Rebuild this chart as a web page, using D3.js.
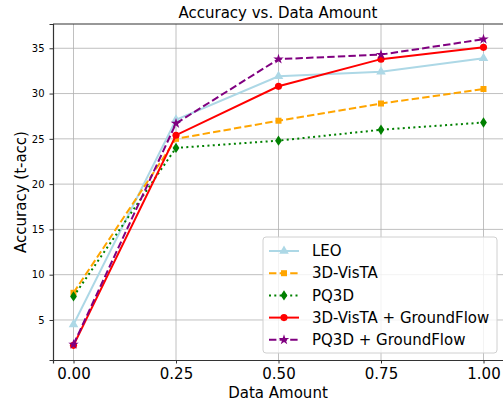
<!DOCTYPE html>
<html>
<head>
<meta charset="utf-8">
<script src="https://cdn.jsdelivr.net/npm/d3@7"></script>
<style>
  body { margin: 0; background: #fff; }
  text { font-family: "DejaVu Sans", sans-serif; fill: #000; }
</style>
</head>
<body>
<svg id="chart" width="503" height="404"></svg>
<script>
// data amount fractions on the x axis
const amounts = [0, 0.25, 0.5, 0.75, 1.0];
const xTicks = [0, 0.25, 0.5, 0.75, 1.0];
const yTicks = [5, 10, 15, 20, 25, 30, 35];

const leo = [4.5, 27.1, 31.9, 32.4, 33.9];
const vista = [8.0, 25.0, 27.0, 28.9, 30.5];
const pq3d = [7.6, 24.0, 24.8, 26.0, 26.8];
const vistaGF = [2.2, 25.4, 30.8, 33.8, 35.1];
const pq3dGF = [2.3, 26.7, 33.8, 34.3, 36.0];

const series = [
    { name: 'LEO', values: leo, color: '#add8e6', dash: null, marker: d3.symbolTriangle, size: 40 },
    { name: '3D-VisTA', values: vista, color: '#ffa500', dash: '7.4,3.2', marker: d3.symbolSquare, size: 36 },
    { name: 'PQ3D', values: pq3d, color: '#008000', dash: '2,3.3', marker: 'thinDiamond', size: 36 },
    { name: '3D-VisTA + GroundFlow', values: vistaGF, color: '#ff0000', dash: null, marker: d3.symbolCircle, size: 40 },
    { name: 'PQ3D + GroundFlow', values: pq3dGF, color: '#800080', dash: '7.4,3.2', marker: d3.symbolStar, size: 34 },
];

const margin = { top: 24, left: 53, right: -1, bottom: 44 };
const width = 503, height = 404;

const svg = d3.select('#chart');

const x = d3.scaleLinear().domain([-0.05, 1.05]).range([margin.left, width - margin.right]);
const y = d3.scaleLinear().domain([0.58, 37.68]).range([height - margin.bottom, margin.top]);

// grid
svg.append('g').selectAll('line').data(xTicks).enter().append('line')
    .attr('x1', d => x(d)).attr('x2', d => x(d))
    .attr('y1', margin.top).attr('y2', height - margin.bottom)
    .attr('stroke', '#b0b0b0').attr('stroke-width', 0.8);
svg.append('g').selectAll('line').data(yTicks).enter().append('line')
    .attr('x1', margin.left).attr('x2', width - margin.right)
    .attr('y1', d => y(d)).attr('y2', d => y(d))
    .attr('stroke', '#b0b0b0').attr('stroke-width', 0.8);

// axes
const xAxis = svg.append('g')
    .attr('transform', `translate(0,${height - margin.bottom})`)
    .call(d3.axisBottom(x).tickValues(xTicks).tickFormat(d3.format('.2f')).tickSize(3.5).tickPadding(5));
xAxis.selectAll('text').style('font-size', '15px');

const yAxis = svg.append('g')
    .attr('transform', `translate(${margin.left},0)`)
    .call(d3.axisLeft(y).tickValues(yTicks).tickSize(3.5).tickPadding(5));
yAxis.selectAll('text').style('font-size', '10px');

[xAxis, yAxis].forEach(a => {
    a.select('.domain').attr('stroke', '#333').attr('stroke-width', 1.2);
    a.selectAll('.tick line').attr('stroke', '#333');
    a.selectAll('text').attr('fill', '#000');
});

// top spine
svg.append('line')
    .attr('x1', margin.left).attr('x2', width)
    .attr('y1', margin.top).attr('y2', margin.top)
    .attr('stroke', '#333').attr('stroke-width', 1.2);

function markerPath(m, size) {
    if (m === 'thinDiamond') {
        const h = 5.2, w = 3.4;
        return `M0,${-h}L${w},0L0,${h}L${-w},0Z`;
    }
    return d3.symbol(m, size)();
}

const line = d3.line()
    .x((d, i) => x(amounts[i]))
    .y(d => y(d));

series.forEach(s => {
    svg.append('path')
        .attr('d', line(s.values))
        .attr('fill', 'none')
        .attr('stroke', s.color)
        .attr('stroke-width', 2)
        .attr('stroke-dasharray', s.dash);
    svg.append('g').selectAll('path').data(s.values).enter().append('path')
        .attr('transform', (d, i) => `translate(${x(amounts[i])},${y(d)})`)
        .attr('d', markerPath(s.marker, s.size))
        .attr('fill', s.color);
});

// title and labels
svg.append('text')
    .attr('x', 278).attr('y', 18)
    .attr('text-anchor', 'middle')
    .style('font-size', '15px')
    .text('Accuracy vs. Data Amount');

svg.append('text')
    .attr('x', 278).attr('y', 398)
    .attr('text-anchor', 'middle')
    .style('font-size', '15px')
    .text('Data Amount');

svg.append('text')
    .attr('transform', `translate(26,${(margin.top + height - margin.bottom) / 2}) rotate(-90)`)
    .attr('text-anchor', 'middle')
    .style('font-size', '15px')
    .text('Accuracy (t-acc)');

// legend
const legend = svg.append('g').attr('transform', 'translate(263,237)');
legend.append('rect')
    .attr('width', 234).attr('height', 116)
    .attr('rx', 3)
    .attr('fill', 'rgba(255,255,255,0.8)')
    .attr('stroke', '#d0d0d0');

const items = legend.selectAll('g.item').data(series).enter().append('g')
    .attr('class', 'item')
    .attr('transform', (d, i) => `translate(0,${14 + i * 22.2})`);
items.append('line')
    .attr('x1', 6).attr('x2', 36)
    .attr('stroke', d => d.color)
    .attr('stroke-width', 2)
    .attr('stroke-dasharray', d => d.dash);
items.append('path')
    .attr('transform', 'translate(21,0)')
    .attr('d', d => markerPath(d.marker, d.size))
    .attr('fill', d => d.color);
items.append('text')
    .attr('x', 49).attr('dy', '0.35em')
    .style('font-size', '15px')
    .text(d => d.name);
</script>
</body>
</html>
